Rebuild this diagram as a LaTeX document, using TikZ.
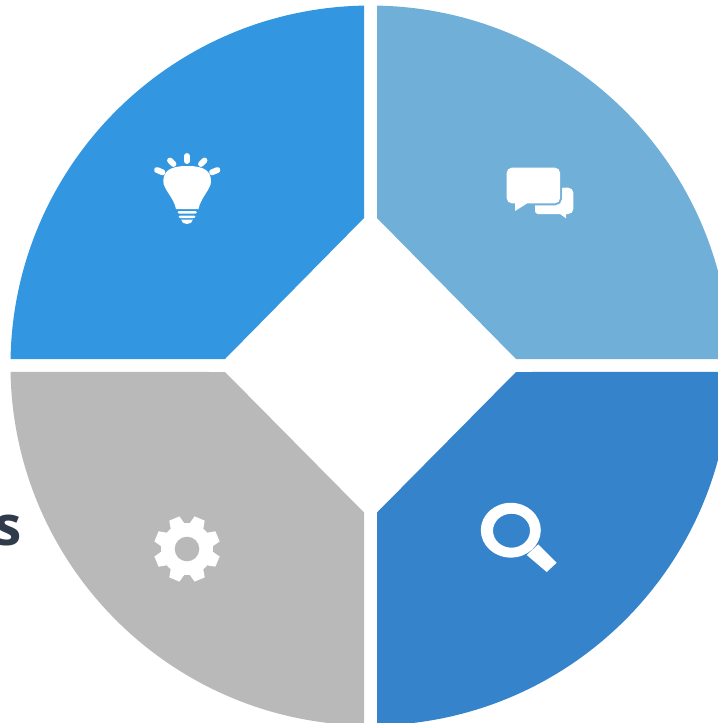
\documentclass[tikz,border=0pt]{standalone}
\usepackage{fontspec}
\setmainfont{Open Sans}
\usepackage{tikz}
\definecolor{tlblue}{HTML}{3296E0}
\definecolor{trblue}{HTML}{70AFD8}
\definecolor{brblue}{HTML}{3483CB}
\definecolor{blgray}{HTML}{B9B9B9}
\definecolor{slate}{HTML}{2F3B4A}
\tikzset{
  ray/.style={white, line width=4.2pt, line cap=round},
  icon/.style={white, even odd rule},
  word/.style={inner sep=0pt, text=slate, font=\fontsize{39}{39}\selectfont\bfseries}
}
\begin{document}
\begin{tikzpicture}[x=0.025cm,y=-0.025cm]
\useasboundingbox (0,0) rectangle (717,723);
\def\RAD{360};
\fill[tlblue] (364,5.6) arc[start angle=-91.03,end angle=-178.97,radius=\RAD]--(225,359)--(364,218)--cycle;
\fill[trblue] (377,5.6) arc[start angle=-88.97,end angle=-1.03,radius=\RAD]--(516,359)--(377,218)--cycle;
\fill[brblue] (377,725.4) arc[start angle=88.97,end angle=1.03,radius=\RAD]--(516,372)--(377,512.5)--cycle;
\fill[blgray] (364,725.4) arc[start angle=91.03,end angle=178.97,radius=\RAD]--(225,372)--(364,512.5)--cycle;
\node (suffix)[word, anchor=base east] at (22.5,545) {s};
\draw[ray] (187,156)--(187,161); \draw[ray] (170,160.5)--(173.5,164); \draw[ray] (204.5,160.5)--(201,164);
\draw[ray] (157,170)--(162.5,172.3); \draw[ray] (217.5,170)--(212,172.3);
\fill[white] (176,209) .. controls (174,198) and (163.3,189) .. (163.3,181.5) .. controls (163.3,171) and (170,166) .. (187.3,166)
  .. controls (204.5,166) and (211,171) .. (211,181.5) .. controls (211,189) and (200.5,198) .. (198.5,209)--cycle;
\fill[white, rounded corners=1pt] (177.5,211)--(197,211)--(197,213.5)--(177.5,213.5)--cycle;
\fill[white, rounded corners=1pt] (178.5,215.5)--(195.5,215.5)--(195.5,218)--(178.5,218)--cycle;
\fill[white] (181,219.5)--(193,219.5) .. controls (192.5,222.5) and (190,224) .. (187,224) .. controls (184,224) and (181.5,222.5) .. (181,219.5)--cycle;
\fill[white] (566,214)--(566,218.3)--(560,214)--(538,214) arc[start angle=90,end angle=180,radius=3]--(535,191) arc[start angle=180,end angle=270,radius=3]--(568.3,187.7) arc[start angle=-90,end angle=0,radius=5]--(573.3,209) arc[start angle=0,end angle=90,radius=5]--cycle;
\fill[white, preaction={draw=trblue, line width=2.8pt}] (515,203.3)--(515,211)--(527.3,203.3)--(555,203.3) arc[start angle=90,end angle=0,radius=5]--(560,172.7) arc[start angle=0,end angle=-90,radius=5]--(511.7,167.7) arc[start angle=-90,end angle=-180,radius=5]--(506.7,198.3) arc[start angle=180,end angle=90,radius=5]--cycle;
\foreach \ang in {22.5,67.5,...,337.5}
  \fill[white, shift={(187,549)}, rotate=\ang] (22,-8)--(33,-5.5)--(33,5.5)--(22,8)--cycle;
\fill[white] (187,549) circle[radius=26];
\fill[blgray] (187,549) circle[radius=12.3];
\fill[icon] (510.8,530.2) ellipse[x radius=30,y radius=27.4] (511.5,530.7) ellipse[x radius=18.5,y radius=17];
\fill[white] (538.3,544.3)--(556.7,562.7)--(546.7,572)--(526.7,555)--cycle;
\end{tikzpicture}
\end{document}
